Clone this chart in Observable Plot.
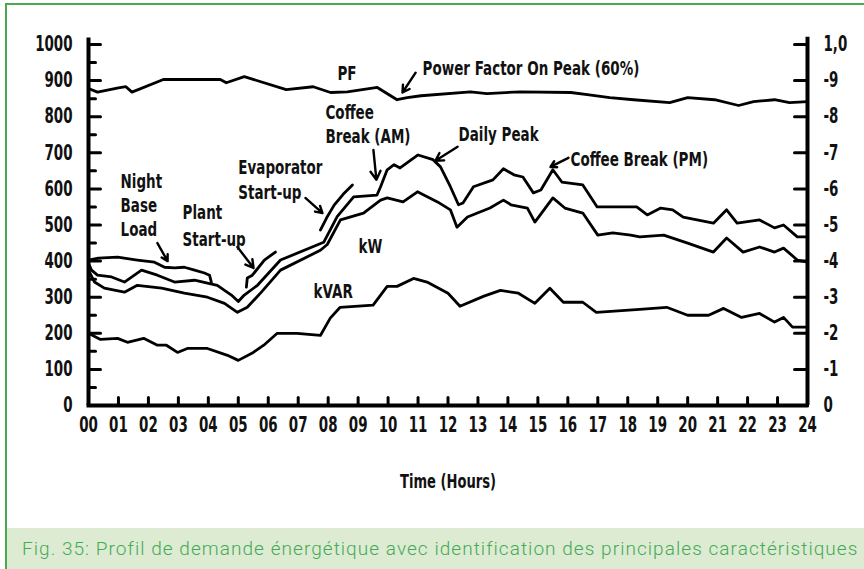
<!DOCTYPE html>
<html>
<head>
<meta charset="utf-8">
<script src="https://cdn.jsdelivr.net/npm/d3@7"></script>
<script src="https://cdn.jsdelivr.net/npm/@observablehq/plot@0.6"></script>
<style>
  html, body { margin: 0; padding: 0; background: #fff; }
  #wrap { position: relative; width: 864px; height: 569px; overflow: hidden; background: #fff; }
  #chart svg { display: block; }
  #frame { position: absolute; left: 5px; top: 3px; width: 862px; height: 570px;
           border-top: 2px solid #4aa84f; border-left: 2px solid #4aa84f; pointer-events: none; box-sizing: border-box; }
  #caption { margin-left: 7px; height: 41px; background: #deebd3; color: #43aa56;
             font-family: Roboto, "Noto Sans", sans-serif; font-weight: 300; font-size: 19px;
             letter-spacing: 1.05px; line-height: 41px; padding-left: 15px; white-space: nowrap; }
</style>
</head>
<body>
<div id="wrap">
  <div id="chart"></div>
  <div id="caption">Fig. 35: Profil de demande énergétique avec identification des principales caractéristiques</div>
  <div id="frame"></div>
</div>
<script>
// ---- Data ----
const pfHours  = [0,0.3,1.0,1.25,1.45,2.5,4.4,4.6,5.2,6.6,7.5,8.08,8.64,9.64,10.3,10.64,11.1,12.75,13.3,14.4,16.1,16.65,17.4,18.2,19.4,20.0,20.9,21.7,22.2,22.9,23.4,24];
const pfValues = [0.878,0.868,0.880,0.883,0.868,0.903,0.903,0.894,0.911,0.875,0.883,0.867,0.869,0.881,0.847,0.853,0.858,0.869,0.864,0.869,0.867,0.861,0.853,0.847,0.839,0.853,0.847,0.831,0.842,0.847,0.839,0.842];

const kvaHours  = [0,0.1,0.3,0.77,1.2,1.77,2.3,2.87,3.54,3.97,4.3,4.77,5.0,5.2,5.64,6.41,7.85,8.3,8.85,9.63,9.75,9.97,10.2,10.4,11.0,11.5,11.75,12.08,12.35,12.5,12.85,13.5,13.85,14.2,14.5,14.85,15.1,15.5,15.8,16.5,16.98,17.65,18.3,18.65,19.1,19.5,19.85,20.86,21.3,21.65,22.4,22.9,23.2,23.66,24];
const kvaValues = [394,375,361,356,342,375,361,342,347,339,333,306,288,306,333,403,452,523,578,583,606,653,667,658,694,681,661,606,556,561,606,625,656,639,633,589,597,653,619,611,550,550,550,528,547,542,522,505,542,505,514,492,500,467,467];

const kwHours  = [0,0.2,0.53,1.2,1.63,2.44,3.2,3.97,4.54,4.97,5.3,5.77,6.41,7.74,7.97,8.41,9.18,9.75,9.97,10.5,10.98,11.65,12.08,12.3,12.65,13.4,13.85,14.1,14.65,14.9,15.5,15.9,16.5,17.0,17.5,18.1,18.4,19.2,20.0,20.86,21.3,21.85,22.4,22.9,23.2,23.66,24];
const kwValues = [375,342,325,314,333,325,311,300,283,258,272,314,375,430,446,514,533,569,575,564,592,564,542,494,522,547,569,556,547,508,575,547,533,472,478,472,467,472,450,425,464,425,439,425,436,403,397];

const kvarHours  = [0,0.4,0.97,1.3,1.84,2.3,2.6,2.97,3.3,3.97,4.64,5.0,5.5,5.85,6.3,6.96,7.74,8.07,8.4,9.5,9.97,10.3,10.85,11.3,12.0,12.4,13.2,13.75,14.35,14.9,15.4,15.85,16.5,16.95,18.4,19.3,20.0,20.7,21.2,21.8,22.4,22.9,23.2,23.5,24];
const kvarValues = [200,183,186,175,186,167,167,147,158,158,139,125,147,167,200,200,194,242,272,278,330,330,352,342,311,275,303,319,311,283,325,286,286,258,266,272,250,250,269,244,255,231,244,217,217];

const nightHours  = [0,0.33,0.97,1.63,2.2,2.54,2.87,3.2,3.54,3.87,4.04,4.1];
const nightValues = [403,408,411,403,397,383,381,383,375,367,361,342];
const plantHours  = [5.27,5.3,5.47,5.87,6.24];
const plantValues = [328,353,361,403,425];
const evapHours   = [7.74,7.95,8.2,8.5,8.81];
const evapValues  = [486,520,555,585,611];

const leftTicks   = [0,100,200,300,400,500,600,700,800,900,1000];
const leftLabels  = ["0","100","200","300","400","500","600","700","800","900","1000"];
const minorTicks  = [50,150,250,350,450,550,650,750,850,950];
const rightLabels = ["0","-1","-2","-3","-4","-5","-6","-7","-8","-9","1,0"];
const hourTicks   = d3.range(0, 25);
const hourLabels  = ["00","01","02","03","04","05","06","07","08","09","10","11","12","13","14","15","16","17","18","19","20","21","22","23","24"];

const noteTexts = ["PF","Power Factor On Peak (60%)","Coffee","Break (AM)","Daily Peak","Coffee Break (PM)","Evaporator","Start-up","Night","Base","Load","Plant","Start-up","kW","kVAR"];
const noteHours = [8.31,11.15,7.91,7.91,12.35,16.09,5.0,5.0,1.07,1.07,1.07,3.14,3.14,9.01,7.51];
const noteValues = [918,931,811,744,750,681,658,589,619,553,486,533,458,439,314];

const arrowFromHours  = [10.92,9.51,12.32,16.02,7.24,2.3,4.97];
const arrowFromValues = [922,708,717,686,575,450,439];
const arrowToHours    = [10.48,9.61,11.58,15.42,7.81,2.64,5.51];
const arrowToValues   = [867,625,678,661,533,400,381];

// ---- Build tables ----
const toRows = (hs, vs, name) => hs.map((h, i) => ({hour: h, value: vs[i], series: name}));
const lines = [
  ...toRows(pfHours, pfValues.map(v => v * 1000), "PF"),
  ...toRows(kvaHours, kvaValues, "kVA"),
  ...toRows(kwHours, kwValues, "kW"),
  ...toRows(kvarHours, kvarValues, "kVAR"),
  ...toRows(nightHours, nightValues, "night"),
  ...toRows(plantHours, plantValues, "plant"),
  ...toRows(evapHours, evapValues, "evap")
];
const notes = noteTexts.map((t, i) => ({text: t, hour: noteHours[i], value: noteValues[i]}));
const arrows = arrowFromHours.map((h, i) => ({x1: h, y1: arrowFromValues[i], x2: arrowToHours[i], y2: arrowToValues[i]}));

const FONT = '"DejaVu Sans", sans-serif';
const tickShape = {draw(context, l) { context.moveTo(0, 0); context.lineTo(0, -l); }};

const chart = Plot.plot({
  width: 864,
  height: 528,
  marginLeft: 88,
  marginRight: 57,
  marginTop: 44,
  marginBottom: 123,
  x: {domain: [0, 24], axis: null},
  y: {domain: [0, 1000], axis: null},
  style: {fontFamily: FONT, background: "transparent", color: "#111"},
  marks: [
    // axis labels
    Plot.axisY({anchor: "left", ticks: leftTicks, tickSize: 0, tickPadding: 16,
      tickFormat: (d) => leftLabels[leftTicks.indexOf(d)], fontSize: 21, fontWeight: "bold", fill: "#111", label: null}),
    Plot.axisY({anchor: "right", ticks: leftTicks, tickSize: 0, tickPadding: 16,
      tickFormat: (d) => rightLabels[leftTicks.indexOf(d)], fontSize: 21, fontWeight: "bold", fill: "#111", label: null}),
    Plot.axisX({anchor: "bottom", ticks: hourTicks, tickSize: 0, tickPadding: 12,
      tickFormat: (d) => hourLabels[d], fontSize: 21, fontWeight: "bold", fill: "#111", label: null}),
    Plot.text(["Time (Hours)"], {frameAnchor: "bottom", dy: 82, fontSize: 19, fontWeight: "bold", fill: "#111"}),
    // axis lines
    Plot.ruleX([0], {y1: 0, y2: 1018, strokeWidth: 4, stroke: "#000"}),
    Plot.ruleX([24], {y1: 0, y2: 1020, strokeWidth: 4, stroke: "#000"}),
    Plot.ruleY([0], {x1: -0.05, x2: 24.05, strokeWidth: 4, stroke: "#000"}),
    // ticks
    Plot.vector(leftTicks, {y: d => d, frameAnchor: "left", rotate: 90, length: 12, anchor: "start", shape: tickShape, strokeWidth: 3, stroke: "#000"}),
    Plot.vector(minorTicks, {y: d => d, frameAnchor: "left", rotate: 90, length: 7, anchor: "start", shape: tickShape, strokeWidth: 3, stroke: "#000"}),
    Plot.vector(leftTicks, {y: d => d, frameAnchor: "right", rotate: -90, length: 13, anchor: "start", shape: tickShape, strokeWidth: 3, stroke: "#000"}),
    Plot.vector(hourTicks, {x: d => d, frameAnchor: "bottom", rotate: 0, length: 8, anchor: "start", shape: tickShape, strokeWidth: 3, stroke: "#000"}),
    // data lines
    Plot.line(lines, {x: "hour", y: "value", z: "series", stroke: "#000", strokeWidth: 2.8, strokeLinejoin: "round", strokeLinecap: "round"}),
    // annotations
    Plot.arrow(arrows, {x1: "x1", y1: "y1", x2: "x2", y2: "y2", stroke: "#000", strokeWidth: 2.4, headLength: 9}),
    Plot.text(notes, {x: "hour", y: "value", text: "text", textAnchor: "start", fontSize: 19, fontWeight: "bold", fill: "#111"})
  ]
});
document.getElementById("chart").appendChild(chart);

// Condense the bold text horizontally about its anchor point (the reference uses a condensed face)
chart.querySelectorAll("text").forEach(el => {
  const isTick = !!el.closest('[aria-label$="tick label"]');
  const isTitle = el.textContent === "Time (Hours)";
  const s = isTick ? 0.64 : isTitle ? 0.69 : 0.71;
  const bb = el.getBBox();
  const anchor = getComputedStyle(el).textAnchor;
  const ax = anchor === "end" ? bb.x + bb.width : anchor === "middle" ? bb.x + bb.width / 2 : bb.x;
  const t = el.getAttribute("transform") || "";
  el.setAttribute("transform", `${t} translate(${ax},0) scale(${s},1) translate(${-ax},0)`.trim());
});
</script>
</body>
</html>
